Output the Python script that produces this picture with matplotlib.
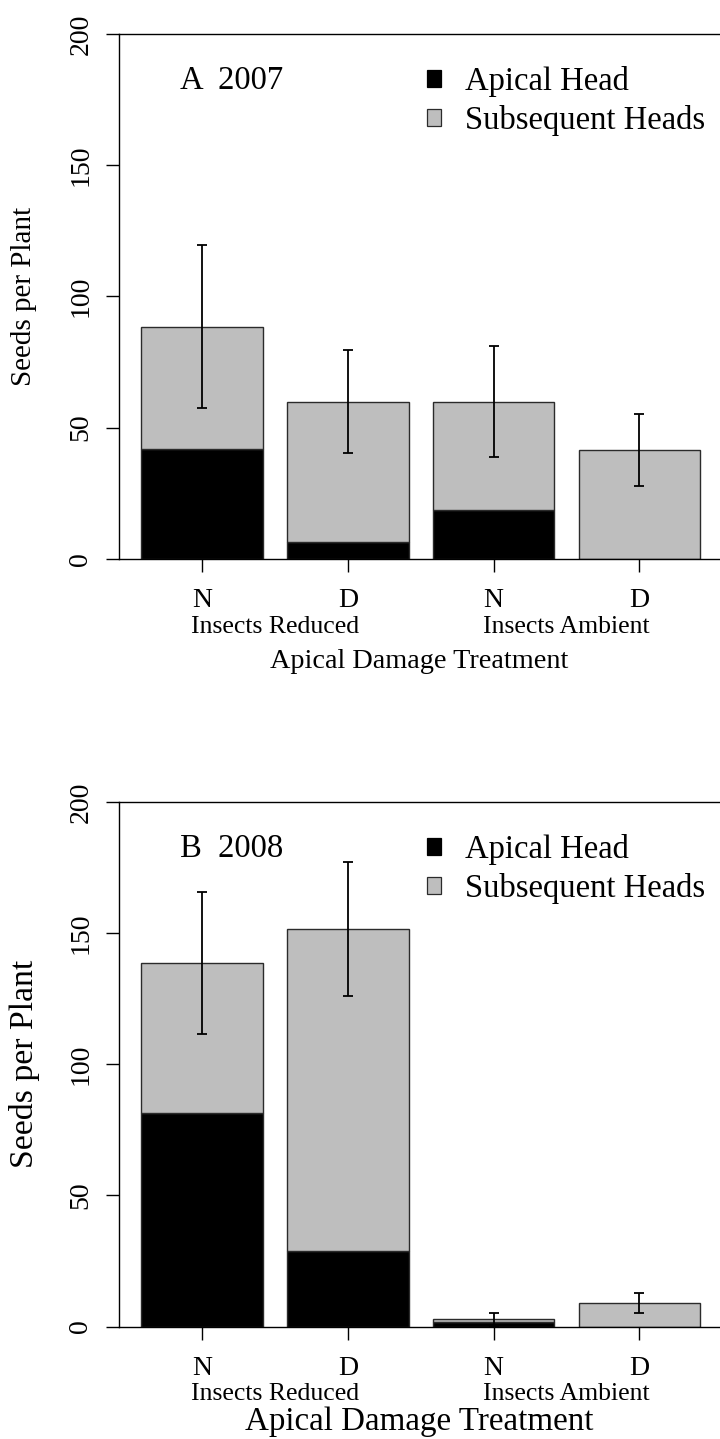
import matplotlib
matplotlib.use("Agg")
import matplotlib.pyplot as plt
from matplotlib.patches import Patch
import numpy as np

plt.rcParams['font.family'] = ['Liberation Serif', 'DejaVu Serif']

# seeds per plant
treatments = ['N', 'D', 'N', 'D']
groups = ['Insects Reduced', 'Insects Ambient']
apical_2007 = [41.9, 6.5, 18.7, 0.0]
subsequent_2007 = [46.5, 53.4, 41.2, 41.4]
se_2007 = [31.1, 19.7, 21.2, 13.6]
apical_2008 = [81.3, 28.7, 1.8, 0.0]
subsequent_2008 = [57.2, 122.9, 1.0, 8.9]
se_2008 = [27.0, 25.5, 2.5, 3.8]

W, H = 720, 1439
fig = plt.figure(figsize=(W / 100, H / 100), dpi=100)

GRAY = '#BEBEBE'
EDGE = '#2b2b2b'
pos = np.arange(4) * 1.2 + 0.7   # R barplot positions
ppu = 121.5                      # pixels per x unit


def panel(top, bottom, apical, subsequent, se, tag, ylab_size, xlab_size, xlab_off):
    ax = fig.add_axes([119 / W, 1 - bottom / H, (720 - 119) / W, (bottom - top) / H])
    apical = np.array(apical)
    subsequent = np.array(subsequent)
    total = apical + subsequent
    ax.bar(pos, apical, width=1, color='black', edgecolor=EDGE, linewidth=1.0)
    ax.bar(pos, subsequent, width=1, bottom=apical, color=GRAY, edgecolor=EDGE, linewidth=1.0)
    ax.errorbar(pos, total, yerr=se, fmt='none', ecolor='black', elinewidth=1.3,
                capsize=3.35, capthick=1.3)

    ax.set_xlim(pos[0] - (202 - 119) / ppu, pos[0] + (720 - 202) / ppu)
    ax.set_ylim(0, 200)
    ax.spines['right'].set_visible(False)
    for s in ['left', 'top', 'bottom']:
        ax.spines[s].set_linewidth(1.0)

    ax.set_yticks([0, 50, 100, 150, 200])
    ax.set_xticks(pos)
    ax.set_xticklabels(treatments)
    ax.tick_params(axis='both', length=9.4, width=1.0, labelsize=20)
    ax.tick_params(axis='y', labelrotation=90, pad=9)
    ax.tick_params(axis='x', pad=11.5)
    for lab in ax.get_yticklabels():
        lab.set_va('center')

    for i, g in enumerate(groups):
        mid = (pos[2 * i] + pos[2 * i + 1]) / 2
        ax.annotate(g, xy=(mid, 0), xycoords=('data', 'axes fraction'),
                    xytext=(0, -74 * 0.72), textcoords='offset points',
                    ha='center', va='baseline', fontsize=18.5)
    ax.annotate('Apical Damage Treatment', xy=(0.5, 0), xycoords='axes fraction',
                xytext=(0, -xlab_off * 0.72), textcoords='offset points',
                ha='center', va='baseline', fontsize=xlab_size)
    ax.text(-0.158, 0.5, 'Seeds per Plant', transform=ax.transAxes, rotation=90,
            ha='center', va='center', fontsize=ylab_size)
    ax.text(0.1015, 0.8946, tag, transform=ax.transAxes, ha='left', va='baseline',
            fontsize=23.5)

    handles = [Patch(facecolor='black', edgecolor='black', linewidth=0.9),
               Patch(facecolor=GRAY, edgecolor=EDGE, linewidth=0.9)]
    ax.legend(handles, ['Apical Head', 'Subsequent Heads'], loc='upper left',
              bbox_to_anchor=(427 / W, 1 - (top + 32) / H), bbox_transform=fig.transFigure,
              frameon=False, borderpad=0, borderaxespad=0, handlelength=0.43,
              handleheight=0.43, handletextpad=0.74, labelspacing=0.25, fontsize=23.5)
    return ax


panel(34, 558.7, apical_2007, subsequent_2007, se_2007, 'A  2007', 21, 20.3, 109.3)
panel(802, 1326.5, apical_2008, subsequent_2008, se_2008, 'B  2008', 24.3, 23.8, 103.5)

fig.savefig('out.png', dpi=100)
